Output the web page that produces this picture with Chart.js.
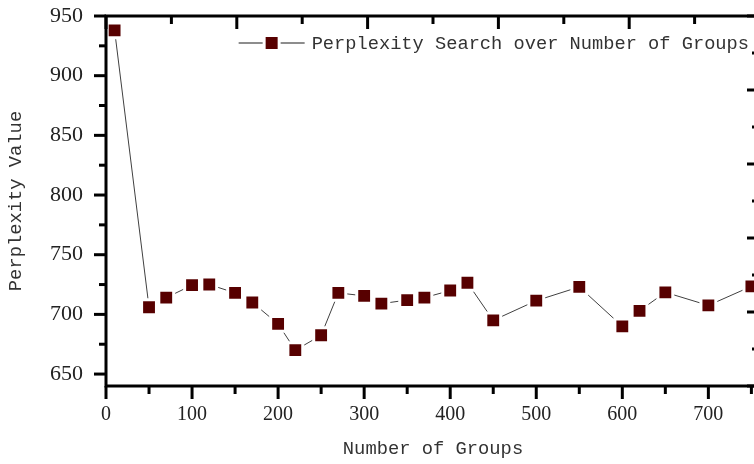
<!DOCTYPE html>
<html>
<head>
<meta charset="utf-8">
<script src="https://cdn.jsdelivr.net/npm/chart.js@4.4.0/dist/chart.umd.min.js"></script>
<style>
  html, body { margin: 0; padding: 0; background: #fff; overflow: hidden; }
  #wrap { position: relative; width: 765px; height: 464px; }
  canvas { display: block; }
</style>
</head>
<body>
<div id="wrap"><canvas id="mycanvas" width="765" height="464"></canvas></div>
<script>
// data
var groups = [10, 50, 70, 100, 120, 150, 170, 200, 220, 250, 270, 300, 320,
              350, 370, 400, 420, 450, 500, 550, 600, 620, 650, 700, 750];
var perplexity = [938, 706, 714, 724.5, 725, 718, 710, 692, 670, 682.5, 718, 715.5, 709,
                  712, 714, 720, 726.5, 695, 711.5, 723, 690, 703, 718.5, 707.5, 723.5];
var seriesLabel = 'Perplexity Search over Number of Groups';

// tick values (majors get a label)
var xTicks = [0, 50, 100, 150, 200, 250, 300, 350, 400, 450, 500, 550, 600, 650, 700, 750];
var yTicks = [650, 675, 700, 725, 750, 775, 800, 825, 850, 875, 900, 925, 950];
var frameTicks = [0, 0.5, 1, 1.5, 2, 2.5, 3, 3.5, 4, 4.5, 5];

var serif = "'Liberation Serif', 'DejaVu Serif', serif";
var mono = "'Liberation Mono', 'DejaVu Sans Mono', monospace";

function setTicks(list) {
	return function(scale) {
		scale.ticks = list.map(function(v) { return { value: v }; });
	};
}

// fixed axis box sizes, no extra label overflow padding
function fixSize(prop, size) {
	return function(s) {
		s[prop] = size;
		s.paddingTop = s.paddingBottom = s.paddingLeft = s.paddingRight = 0;
	};
}

// frame, tick marks and the in-plot legend
var framePlugin = {
	id: 'frame',
	afterDraw: function(chart) {
		var ctx = chart.ctx;
		var a = chart.chartArea;
		var sx = chart.scales.x, sy = chart.scales.y;
		var tx = chart.scales.x2, ty = chart.scales.y2;
		ctx.save();
		ctx.strokeStyle = '#000';
		ctx.lineWidth = 3;
		ctx.lineCap = 'butt';
		ctx.strokeRect(a.left, a.top, a.right - a.left, a.bottom - a.top);

		function mark(x1, y1, x2, y2) {
			ctx.beginPath();
			ctx.moveTo(x1, y1);
			ctx.lineTo(x2, y2);
			ctx.stroke();
		}
		xTicks.forEach(function(v) {
			var p = sx.getPixelForValue(v);
			mark(p, a.bottom, p, a.bottom + (v % 100 === 0 ? 13 : 8));
		});
		yTicks.forEach(function(v) {
			var p = sy.getPixelForValue(v);
			mark(a.left, p, a.left - (v % 50 === 0 ? 12 : 7), p);
		});
		frameTicks.forEach(function(v) {
			var len = (v % 1 === 0) ? 13 : 8;
			var p = tx.getPixelForValue(v);
			mark(p, a.top, p, a.top + len);
			var q = ty.getPixelForValue(v);
			mark(a.right, q, a.right - len, q);
		});

		// legend
		var ds = chart.data.datasets[0];
		ctx.font = '18.7px ' + mono;
		ctx.fillStyle = '#333';
		ctx.textBaseline = 'middle';
		ctx.textAlign = 'left';
		var tw = ctx.measureText(ds.label).width;
		var ly = a.top + 27;
		var tx0 = a.right - 11 - tw;
		ctx.fillText(ds.label, tx0, ly + 1);
		var l1 = tx0 - 7, l0 = l1 - 66, mid = (l0 + l1) / 2;
		ctx.strokeStyle = '#404040';
		ctx.lineWidth = 1.2;
		mark(l0, ly, mid - 9, ly);
		mark(mid + 9, ly, l1, ly);
		ctx.fillStyle = ds.pointBackgroundColor;
		ctx.fillRect(mid - 6, ly - 6, 12, 12);
		ctx.restore();
	}
};

var ctx = document.getElementById('mycanvas');
new Chart(ctx, {
	type: 'line',
	data: {
		datasets: [{
			label: seriesLabel,
			data: groups.map(function(g, i) { return { x: g, y: perplexity[i] }; }),
			borderColor: '#404040',
			borderWidth: 1,
			pointStyle: 'rect',
			pointRadius: 10.5,
			pointBorderWidth: 3,
			pointBorderColor: '#ffffff',
			pointBackgroundColor: '#570000',
			tension: 0,
			fill: false,
			clip: false
		}]
	},
	options: {
		responsive: false,
		animation: false,
		events: [],
		layout: { padding: 0, autoPadding: false },
		plugins: {
			legend: { display: false },
			tooltip: { enabled: false }
		},
		scales: {
			x: {
				type: 'linear',
				position: 'bottom',
				min: 0,
				max: 760,
				afterBuildTicks: setTicks(xTicks),
				afterFit: fixSize('height', 78),
				grid: { display: false, drawTicks: false },
				border: { display: false },
				ticks: {
					autoSkip: false,
					maxRotation: 0,
					padding: 17,
					color: '#222',
					font: { family: serif, size: 20 },
					callback: function(v) { return v % 100 === 0 ? String(v) : ''; }
				},
				title: {
					display: true,
					text: 'Number of Groups',
					color: '#333',
					font: { family: mono, size: 18.8 },
					padding: { top: 0, bottom: 4 }
				}
			},
			y: {
				type: 'linear',
				position: 'left',
				min: 640,
				max: 950,
				afterBuildTicks: setTicks(yTicks),
				afterFit: fixSize('width', 106),
				grid: { display: false, drawTicks: false },
				border: { display: false },
				ticks: {
					autoSkip: false,
					padding: 23,
					color: '#222',
					font: { family: serif, size: 22 },
					callback: function(v) { return v % 50 === 0 ? String(v) : ''; }
				},
				title: {
					display: true,
					text: 'Perplexity Value',
					color: '#333',
					font: { family: mono, size: 18.8 },
					padding: { top: 5, bottom: 0 }
				}
			},
			x2: {
				type: 'linear',
				position: 'top',
				min: 0,
				max: 5,
				afterBuildTicks: setTicks(frameTicks),
				afterFit: fixSize('height', 16),
				grid: { display: false, drawTicks: false },
				border: { display: false },
				ticks: { display: false }
			},
			y2: {
				type: 'linear',
				position: 'right',
				min: 0,
				max: 5,
				afterBuildTicks: setTicks(frameTicks),
				afterFit: fixSize('width', 5),
				grid: { display: false, drawTicks: false },
				border: { display: false },
				ticks: { display: false }
			}
		}
	},
	plugins: [framePlugin]
});
</script>
</body>
</html>
